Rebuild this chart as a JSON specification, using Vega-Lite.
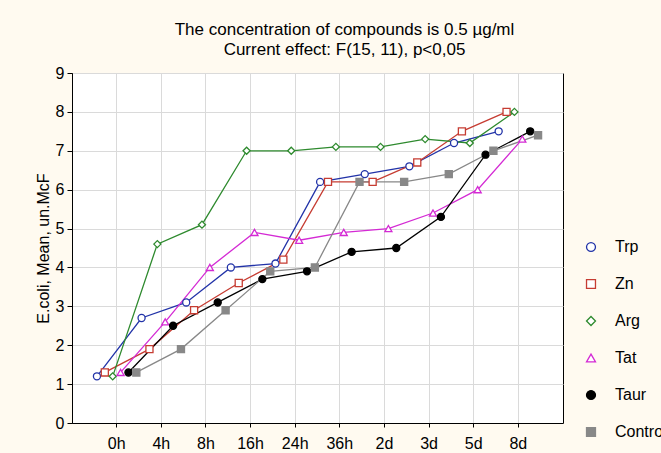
{
  "$schema": "https://vega.github.io/schema/vega-lite/v6.json",
  "width": 491,
  "height": 350,
  "autosize": {"type": "none"},
  "padding": {"left": 72, "top": 73, "right": 98, "bottom": 30},
  "background": "#fffaf0",
  "title": {
    "text": ["The concentration of compounds is 0.5 µg/ml", "Current effect: F(15, 11), p<0,05"],
    "fontSize": 17,
    "fontWeight": "normal",
    "font": "Liberation Sans",
    "color": "#000000",
    "anchor": "middle",
    "dx": 27,
    "offset": 6,
    "lineHeight": 20
  },
  "data": {
    "values": [
      {"time": "0h", "compound": "Trp", "value": 1.2},
      {"time": "0h", "compound": "Zn", "value": 1.3},
      {"time": "0h", "compound": "Arg", "value": 1.2},
      {"time": "0h", "compound": "Tat", "value": 1.3},
      {"time": "0h", "compound": "Taur", "value": 1.3},
      {"time": "0h", "compound": "Control", "value": 1.3},
      {"time": "4h", "compound": "Trp", "value": 2.7},
      {"time": "4h", "compound": "Zn", "value": 1.9},
      {"time": "4h", "compound": "Arg", "value": 4.6},
      {"time": "4h", "compound": "Tat", "value": 2.6},
      {"time": "4h", "compound": "Taur", "value": 2.5},
      {"time": "4h", "compound": "Control", "value": 1.9},
      {"time": "8h", "compound": "Trp", "value": 3.1},
      {"time": "8h", "compound": "Zn", "value": 2.9},
      {"time": "8h", "compound": "Arg", "value": 5.1},
      {"time": "8h", "compound": "Tat", "value": 4.0},
      {"time": "8h", "compound": "Taur", "value": 3.1},
      {"time": "8h", "compound": "Control", "value": 2.9},
      {"time": "16h", "compound": "Trp", "value": 4.0},
      {"time": "16h", "compound": "Zn", "value": 3.6},
      {"time": "16h", "compound": "Arg", "value": 7.0},
      {"time": "16h", "compound": "Tat", "value": 4.9},
      {"time": "16h", "compound": "Taur", "value": 3.7},
      {"time": "16h", "compound": "Control", "value": 3.9},
      {"time": "24h", "compound": "Trp", "value": 4.1},
      {"time": "24h", "compound": "Zn", "value": 4.2},
      {"time": "24h", "compound": "Arg", "value": 7.0},
      {"time": "24h", "compound": "Tat", "value": 4.7},
      {"time": "24h", "compound": "Taur", "value": 3.9},
      {"time": "24h", "compound": "Control", "value": 4.0},
      {"time": "36h", "compound": "Trp", "value": 6.2},
      {"time": "36h", "compound": "Zn", "value": 6.2},
      {"time": "36h", "compound": "Arg", "value": 7.1},
      {"time": "36h", "compound": "Tat", "value": 4.9},
      {"time": "36h", "compound": "Taur", "value": 4.4},
      {"time": "36h", "compound": "Control", "value": 6.2},
      {"time": "2d", "compound": "Trp", "value": 6.4},
      {"time": "2d", "compound": "Zn", "value": 6.2},
      {"time": "2d", "compound": "Arg", "value": 7.1},
      {"time": "2d", "compound": "Tat", "value": 5.0},
      {"time": "2d", "compound": "Taur", "value": 4.5},
      {"time": "2d", "compound": "Control", "value": 6.2},
      {"time": "3d", "compound": "Trp", "value": 6.6},
      {"time": "3d", "compound": "Zn", "value": 6.7},
      {"time": "3d", "compound": "Arg", "value": 7.3},
      {"time": "3d", "compound": "Tat", "value": 5.4},
      {"time": "3d", "compound": "Taur", "value": 5.3},
      {"time": "3d", "compound": "Control", "value": 6.4},
      {"time": "5d", "compound": "Trp", "value": 7.2},
      {"time": "5d", "compound": "Zn", "value": 7.5},
      {"time": "5d", "compound": "Arg", "value": 7.2},
      {"time": "5d", "compound": "Tat", "value": 6.0},
      {"time": "5d", "compound": "Taur", "value": 6.9},
      {"time": "5d", "compound": "Control", "value": 7.0},
      {"time": "8d", "compound": "Trp", "value": 7.5},
      {"time": "8d", "compound": "Zn", "value": 8.0},
      {"time": "8d", "compound": "Arg", "value": 8.0},
      {"time": "8d", "compound": "Tat", "value": 7.3},
      {"time": "8d", "compound": "Taur", "value": 7.5},
      {"time": "8d", "compound": "Control", "value": 7.4}
    ]
  },
  "encoding": {
    "x": {
      "field": "time",
      "type": "nominal",
      "sort": ["0h", "4h", "8h", "16h", "24h", "36h", "2d", "3d", "5d", "8d"],
      "scale": {"paddingInner": 0, "paddingOuter": 0.5},
      "axis": {
        "title": null,
        "labelAngle": 0,
        "labelFontSize": 16,
        "labelColor": "#000000",
        "labelPadding": 8,
        "tickSize": 4,
        "tickColor": "#000000",
        "domainColor": "#000000",
        "grid": true,
        "gridColor": "#dadada",
        "bandPosition": 0.5
      }
    },
    "xOffset": {
      "field": "compound",
      "type": "nominal",
      "sort": ["Trp", "Zn", "Arg", "Tat", "Taur", "Control"],
      "scale": {"paddingInner": 0, "paddingOuter": 0.333}
    },
    "y": {
      "field": "value",
      "type": "quantitative",
      "scale": {"domain": [0, 9], "nice": false},
      "axis": {
        "title": "E.coli, Mean, un.McF",
        "titleFontSize": 16,
        "titleFontWeight": "normal",
        "titleColor": "#000000",
        "titlePadding": 4,
        "values": [0, 1, 2, 3, 4, 5, 6, 7, 8, 9],
        "labelFontSize": 16,
        "labelColor": "#000000",
        "labelPadding": 3,
        "tickSize": 5,
        "tickColor": "#000000",
        "domainColor": "#000000",
        "grid": true,
        "gridColor": "#dadada"
      }
    },
    "stroke": {
      "field": "compound",
      "type": "nominal",
      "sort": ["Trp", "Zn", "Arg", "Tat", "Taur", "Control"],
      "scale": {
        "domain": ["Trp", "Zn", "Arg", "Tat", "Taur", "Control"],
        "range": ["#2233a8", "#c63c32", "#2e8a2e", "#d42ad4", "#000000", "#888888"]
      },
      "legend": {
        "title": null,
        "orient": "none",
        "legendX": 511,
        "legendY": 166,
        "rowPadding": 21,
        "labelFontSize": 16,
        "labelColor": "#000000",
        "labelOffset": 16,
        "symbolSize": 80,
        "symbolStrokeWidth": 1.3
      }
    }
  },
  "layer": [
    {
      "mark": {"type": "line", "strokeWidth": 1.3}
    },
    {
      "mark": {"type": "point", "strokeWidth": 1.3, "opacity": 1, "fillOpacity": 1, "size": 50},
      "encoding": {
        "fill": {
          "field": "compound",
          "type": "nominal",
          "sort": ["Trp", "Zn", "Arg", "Tat", "Taur", "Control"],
          "scale": {
            "domain": ["Trp", "Zn", "Arg", "Tat", "Taur", "Control"],
            "range": ["#ffffff", "#ffffff", "#ffffff", "#ffffff", "#000000", "#888888"]
          },
          "legend": {"title": null}
        },
        "shape": {
          "field": "compound",
          "type": "nominal",
          "sort": ["Trp", "Zn", "Arg", "Tat", "Taur", "Control"],
          "scale": {
            "domain": ["Trp", "Zn", "Arg", "Tat", "Taur", "Control"],
            "range": ["circle", "square", "diamond", "triangle-up", "circle", "square"]
          },
          "legend": {"title": null}
        }
      }
    }
  ],
  "config": {
    "font": "Liberation Sans",
    "view": {"stroke": "#000000", "strokeWidth": 1, "fill": "#ffffff"}
  }
}
